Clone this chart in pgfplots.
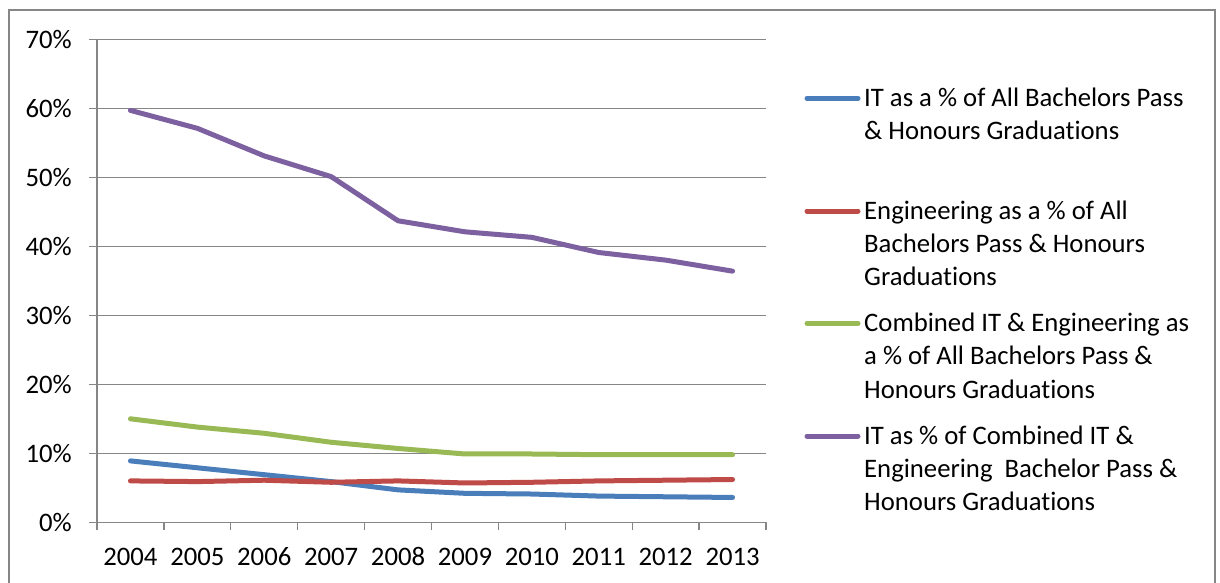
\documentclass[border=0pt]{standalone}
\usepackage{pgfplots}
\pgfplotsset{compat=1.18}
\usepackage{fontspec}
\setmainfont{Carlito}[Ligatures={NoCommon}]

\definecolor{itblue}{HTML}{4A7EBB}
\definecolor{engred}{HTML}{BE4B48}
\definecolor{combgreen}{HTML}{98B954}
\definecolor{sharepurple}{HTML}{7D60A0}
\definecolor{gridgray}{HTML}{868686}

\newcommand{\chartfont}{\fontsize{26.7}{33.3}\selectfont}

\begin{document}
\begin{tikzpicture}
\useasboundingbox (0pt,0pt) rectangle (1220pt,-583pt);
% chart frame
\draw[gridgray, line width=1.3pt] (9pt,-583pt) -- (9pt,-10pt) -- (1215pt,-10pt) -- (1215pt,-583pt);

\begin{axis}[
  at={(97pt,-522.3pt)}, anchor=south west,
  scale only axis, width=669pt, height=483pt,
  xmin=-0.5, xmax=9.5, ymin=0, ymax=70,
  axis lines*=left,
  axis line style={gridgray, line width=1.3pt},
  tick align=outside,
  major tick length=8pt, minor tick length=8pt,
  every tick/.style={gridgray, line width=1.3pt},
  xtick={0,1,2,3,4,5,6,7,8,9},
  xticklabels={2004,2005,2006,2007,2008,2009,2010,2011,2012,2013},
  major x tick style={draw=none},
  minor xtick={-0.5,0.5,1.5,2.5,3.5,4.5,5.5,6.5,7.5,8.5,9.5},
  ytick={0,10,20,30,40,50,60,70},
  yticklabels={0\%,10\%,20\%,30\%,40\%,50\%,60\%,70\%},
  ymajorgrids,
  major grid style={gridgray, line width=1.3pt},
  tick label style={font=\chartfont, inner sep=0pt},
  xticklabel style={anchor=base, yshift=-35pt},
  yticklabel style={anchor=east, xshift=-17pt},
  every axis plot/.append style={line width=5pt, line cap=round, line join=round},
]
% IT share of all bachelors graduations
\addplot[itblue] coordinates {
  (0,8.9) (1,7.9) (2,6.9) (3,5.9) (4,4.7)
  (5,4.2) (6,4.1) (7,3.8) (8,3.7) (9,3.6)};
% Engineering share of all bachelors graduations
\addplot[engred] coordinates {
  (0,6.0) (1,5.9) (2,6.1) (3,5.8) (4,6.0)
  (5,5.7) (6,5.8) (7,6.0) (8,6.1) (9,6.2)};
% combined IT and engineering share
\addplot[combgreen] coordinates {
  (0,15.0) (1,13.8) (2,12.9) (3,11.6) (4,10.7)
  (5,9.9) (6,9.9) (7,9.8) (8,9.8) (9,9.8)};
% IT as a share of combined IT and engineering
\addplot[sharepurple] coordinates {
  (0,59.7) (1,57.1) (2,53.1) (3,50.1) (4,43.7)
  (5,42.1) (6,41.3) (7,39.1) (8,38.0) (9,36.4)};
\end{axis}

% legend
\begin{scope}[line width=5pt, line cap=round]
  \draw[itblue] (807pt,-98.3pt) -- (858pt,-98.3pt);
  \draw[engred] (807pt,-211pt) -- (858pt,-211pt);
  \draw[combgreen] (807pt,-323.3pt) -- (858pt,-323.3pt);
  \draw[sharepurple] (807pt,-436pt) -- (858pt,-436pt);
\end{scope}
\begin{scope}[every node/.style={anchor=base west, inner sep=0pt, font=\chartfont}]
  \node at (864pt,-106.5pt) {IT as a \% of All Bachelors Pass};
  \node at (864pt,-139.8pt) {\& Honours Graduations};
  \node at (864pt,-219.2pt) {Engineering as a \% of All};
  \node at (864pt,-252.5pt) {Bachelors Pass \& Honours};
  \node at (864pt,-285.8pt) {Graduations};
  \node at (864pt,-331.5pt) {Combined IT \& Engineering as};
  \node at (864pt,-364.8pt) {a \% of All Bachelors Pass \&};
  \node at (864pt,-398.1pt) {Honours Graduations};
  \node at (864pt,-444.2pt) {IT as \% of Combined IT \&};
  \node at (864pt,-477.5pt) {Engineering\ \ Bachelor Pass \&};
  \node at (864pt,-510.8pt) {Honours Graduations};
\end{scope}
\end{tikzpicture}
\end{document}
